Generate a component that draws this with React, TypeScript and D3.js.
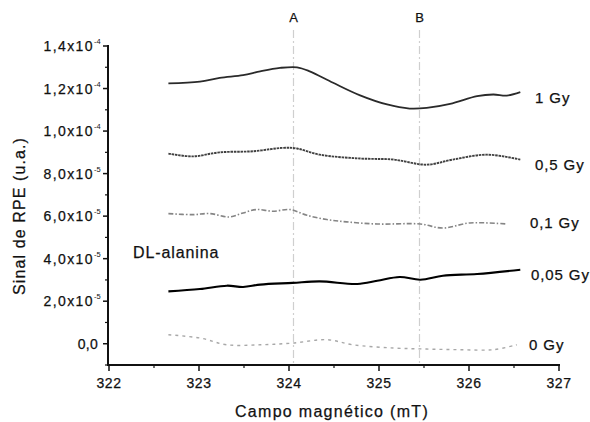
import React from "react";
import * as d3 from "d3";

const xTicks = [322, 323, 324, 325, 326, 327];
const yTickValues = [0, 2e-5, 4e-5, 6e-5, 8e-5, 1e-4, 1.2e-4, 1.4e-4];
const yTickMantissa = ["0,0", "2,0x10", "4,0x10", "6,0x10", "8,0x10", "1,0x10", "1,2x10", "1,4x10"];
const yTickExp = ["", "-5", "-5", "-5", "-5", "-4", "-4", "-4"];

const seriesNames = ["1 Gy", "0,5 Gy", "0,1 Gy", "0,05 Gy", "0 Gy"];

const x1Gy = [322.66, 323.01, 323.23, 323.49, 323.68, 323.9, 324.09, 324.23, 324.49, 324.79, 325.09, 325.34, 325.53, 325.79, 326.09, 326.27, 326.42, 326.57];
const y1Gy = [12.24, 12.32, 12.5, 12.63, 12.81, 12.97, 13.0, 12.81, 12.27, 11.68, 11.25, 11.06, 11.09, 11.28, 11.64, 11.72, 11.67, 11.83];

const x05Gy = [322.66, 322.93, 323.23, 323.6, 323.93, 324.09, 324.34, 324.79, 325.16, 325.53, 325.82, 326.2, 326.57];
const y05Gy = [8.94, 8.81, 9.0, 9.05, 9.21, 9.18, 8.89, 8.71, 8.66, 8.42, 8.66, 8.89, 8.66];

const x01Gy = [322.66, 322.93, 323.12, 323.34, 323.49, 323.64, 323.82, 324.01, 324.2, 324.42, 324.64, 324.98, 325.46, 325.71, 326.01, 326.42];
const y01Gy = [6.12, 6.07, 6.12, 5.96, 6.15, 6.31, 6.23, 6.31, 6.04, 5.84, 5.73, 5.63, 5.63, 5.44, 5.68, 5.63];

const x005Gy = [322.66, 323.01, 323.31, 323.49, 323.68, 324.04, 324.34, 324.76, 324.98, 325.23, 325.46, 325.71, 326.09, 326.57];
const y005Gy = [2.46, 2.57, 2.73, 2.67, 2.78, 2.86, 2.93, 2.81, 2.96, 3.14, 3.01, 3.2, 3.28, 3.48];

const x0Gy = [322.66, 323.01, 323.31, 323.68, 324.04, 324.42, 324.71, 325.16, 325.53, 325.9, 326.27, 326.53];
const y0Gy = [0.42, 0.27, -0.05, -0.05, 0.03, 0.19, -0.05, -0.2, -0.25, -0.28, -0.28, -0.05];

const markerNames = ["A", "B"];
const markerX = [324.05, 325.45];

const W = 590;
const H = 422;
const FONT = "Arial, 'Liberation Sans', sans-serif";
const INK = "#111";

export default function App() {
  const x = d3.scaleLinear().domain([322, 327]).range([109, 559]);
  const y = d3.scaleLinear().domain([-1e-5, 1.4e-4]).range([365, 46]);

  const series = [
    { xs: x1Gy, ys: y1Gy, color: "#2a2a2a", width: 1.8, dash: "" },
    { xs: x05Gy, ys: y05Gy, color: "#404040", width: 1.9, dash: "2.5,0.8" },
    { xs: x01Gy, ys: y01Gy, color: "#858585", width: 1.6, dash: "5,2,1.5,2" },
    { xs: x005Gy, ys: y005Gy, color: "#000", width: 2.1, dash: "" },
    { xs: x0Gy, ys: y0Gy, color: "#a8a8a8", width: 1.4, dash: "3,4" },
  ];
  const labelY = [103, 170, 228, 280, 350];
  const labelX = [535, 535, 530, 531, 529];

  const line = d3
    .line<[number, number]>()
    .x((d) => x(d[0]))
    .y((d) => y(d[1] * 1e-5))
    .curve(d3.curveCatmullRom.alpha(0.5));

  const minorX = d3.range(322.5, 327, 1);
  const minorY = d3.range(-1e-5, 1.4e-4 + 1e-9, 2e-5);

  const textStyle = { stroke: INK, strokeWidth: 0.25 };

  return (
    <svg
      width={W}
      height={H}
      style={{ position: "absolute", left: 0, top: 0, background: "#fff" }}
      fontFamily={FONT}
    >
      {/* marker lines */}
      {markerNames.map((m, i) => (
        <g key={m}>
          <line
            x1={x(markerX[i])}
            x2={x(markerX[i])}
            y1={30}
            y2={365}
            stroke="#cfcfcf"
            strokeWidth={1.2}
            strokeDasharray="8,3,2,3"
          />
          <text x={x(markerX[i])} y={22} textAnchor="middle" fontSize={13} fill={INK} style={textStyle}>
            {m}
          </text>
        </g>
      ))}

      {/* series */}
      {series.map((s, i) => (
        <path
          key={seriesNames[i]}
          d={line(s.xs.map((v, j) => [v, s.ys[j]] as [number, number])) || ""}
          fill="none"
          stroke={s.color}
          strokeWidth={s.width}
          strokeDasharray={s.dash}
        />
      ))}
      {seriesNames.map((n, i) => (
        <text
          key={n}
          x={labelX[i]}
          y={labelY[i]}
          fontSize={15}
          letterSpacing={0.9}
          fill={INK}
          style={textStyle}
        >
          {n}
        </text>
      ))}

      <text x={133} y={258} fontSize={16} letterSpacing={0.9} fill={INK} style={textStyle}>
        DL-alanina
      </text>

      {/* y axis */}
      <line x1={108} x2={108} y1={y(1.4e-4) - 1} y2={366} stroke={INK} strokeWidth={2} />
      {yTickValues.map((v, i) => (
        <g key={v}>
          <line x1={103} x2={108} y1={y(v)} y2={y(v)} stroke={INK} strokeWidth={1.5} />
          <text
            x={yTickExp[i] ? 94 : 98}
            y={y(v) + 5}
            textAnchor="end"
            fontSize={14}
            letterSpacing={yTickExp[i] ? 1.4 : 0.3}
            fill={INK}
            style={textStyle}
          >
            {yTickMantissa[i]}
          </text>
          {yTickExp[i] && (
            <text x={94} y={y(v) - 2} fontSize={7.5} fill={INK}>
              {yTickExp[i]}
            </text>
          )}
        </g>
      ))}
      {minorY.map((v) => (
        <line key={v} x1={105} x2={108} y1={y(v)} y2={y(v)} stroke={INK} strokeWidth={1.2} />
      ))}

      {/* x axis */}
      <line x1={107} x2={x(327) + 1} y1={365} y2={365} stroke={INK} strokeWidth={2} />
      {xTicks.map((v) => (
        <g key={v}>
          <line x1={x(v)} x2={x(v)} y1={365} y2={371} stroke={INK} strokeWidth={1.5} />
          <text
            x={x(v)}
            y={388}
            textAnchor="middle"
            fontSize={14}
            letterSpacing={0.5}
            fill={INK}
            style={textStyle}
          >
            {v}
          </text>
        </g>
      ))}
      {minorX.map((v) => (
        <line key={v} x1={x(v)} x2={x(v)} y1={365} y2={368} stroke={INK} strokeWidth={1.2} />
      ))}

      <text
        x={332}
        y={417}
        textAnchor="middle"
        fontSize={16}
        letterSpacing={1.3}
        fill={INK}
        style={textStyle}
      >
        Campo magnético (mT)
      </text>
      <text
        transform={`translate(25, 216) rotate(-90)`}
        textAnchor="middle"
        fontSize={16}
        letterSpacing={1.1}
        fill={INK}
        style={textStyle}
      >
        Sinal de RPE (u.a.)
      </text>
    </svg>
  );
}
